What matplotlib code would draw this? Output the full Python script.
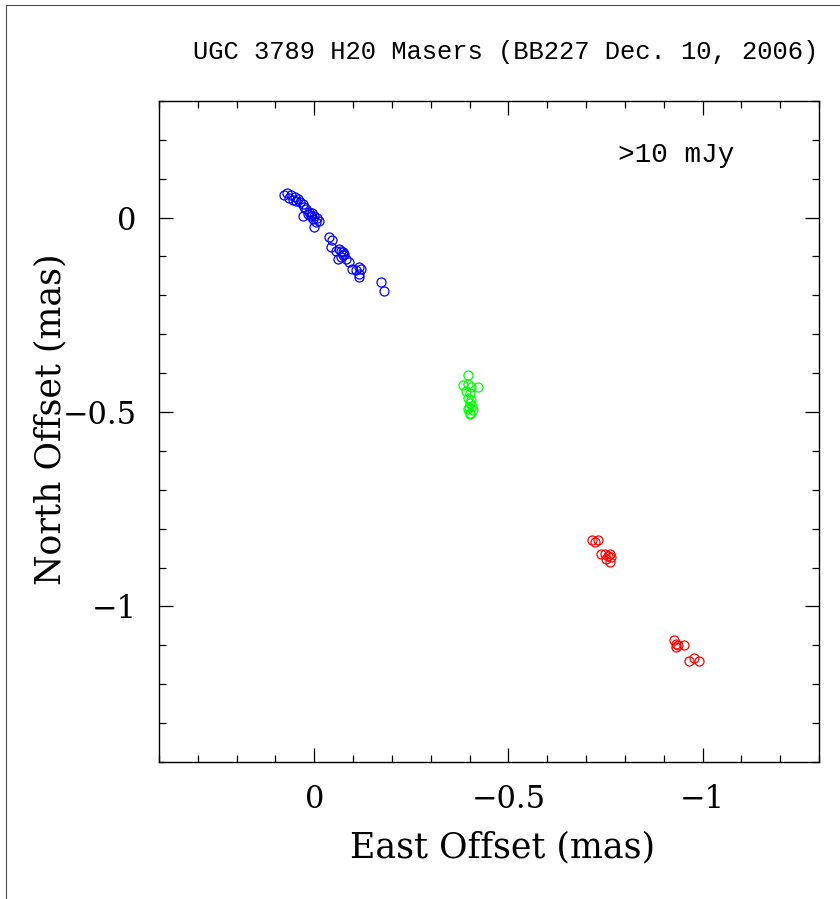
import numpy as np
import matplotlib.pyplot as plt
from matplotlib.lines import Line2D
from matplotlib.ticker import MultipleLocator

# maser positions (mas)
blue_x = [0.077, 0.071, 0.065, 0.060, 0.055, 0.051, 0.047, 0.042, 0.038, 0.030, 0.026,
          0.021, 0.017, 0.013, 0.008, 0.005, 0.004, 0.0, -0.004, -0.008, -0.013, 0.0, 0.030,
          -0.038, -0.045, -0.043, -0.056, -0.064, -0.068, -0.073, -0.077, -0.068, -0.060,
          -0.081, -0.075, -0.090, -0.098, -0.107, -0.115, -0.120, -0.115, -0.114,
          -0.171, -0.179]
blue_y = [0.057, 0.063, 0.050, 0.057, 0.045, 0.052, 0.044, 0.048, 0.039, 0.035, 0.028,
          0.022, 0.010, 0.014, 0.005, 0.012, -0.003, 0.004, -0.012, 0.000, -0.008, -0.025, 0.005,
          -0.051, -0.057, -0.076, -0.085, -0.080, -0.085, -0.089, -0.093, -0.102, -0.106,
          -0.106, -0.097, -0.115, -0.132, -0.136, -0.128, -0.132, -0.145, -0.153,
          -0.166, -0.188]

green_x = [-0.397, -0.384, -0.395, -0.403, -0.421, -0.390, -0.402, -0.397, -0.400, -0.405,
           -0.395, -0.408, -0.400, -0.402, -0.398, -0.404]
green_y = [-0.406, -0.430, -0.427, -0.435, -0.435, -0.446, -0.452, -0.464, -0.477, -0.485,
           -0.493, -0.494, -0.502, -0.505, -0.488, -0.470]

red_x = [-0.715, -0.722, -0.731, -0.739, -0.748, -0.756, -0.761, -0.752, -0.761, -0.765,
         -0.927, -0.932, -0.936, -0.953, -0.932, -0.966, -0.979, -0.991]
red_y = [-0.830, -0.835, -0.829, -0.865, -0.866, -0.869, -0.865, -0.877, -0.886, -0.873,
         -1.086, -1.096, -1.100, -1.100, -1.105, -1.141, -1.132, -1.141]

fig = plt.figure(figsize=(8.4, 8.99), dpi=100)
ax = fig.add_axes([0.1893, 0.1524, 0.7857, 0.7353])

mk = dict(linestyle='none', marker='o', markersize=6.5, markerfacecolor='none', markeredgewidth=0.9)
ax.plot(blue_x, blue_y, markeredgecolor=(0, 0, 1), **mk)
ax.plot(green_x, green_y, markeredgecolor=(0, 1, 0), **mk)
ax.plot(red_x, red_y, markeredgecolor=(1, 0, 0), **mk)


def fmt(v, p):
    if abs(v) < 1e-9:
        return '0'
    return ('%g' % v).replace('-', '\u2212')


ax.set_xlim(0.4, -1.3)
ax.set_ylim(-1.4, 0.3)
ax.xaxis.set_major_locator(MultipleLocator(0.5))
ax.xaxis.set_minor_locator(MultipleLocator(0.1))
ax.yaxis.set_major_locator(MultipleLocator(0.5))
ax.yaxis.set_minor_locator(MultipleLocator(0.1))
ax.xaxis.set_major_formatter(plt.FuncFormatter(fmt))
ax.yaxis.set_major_formatter(plt.FuncFormatter(fmt))
ax.tick_params(which='both', direction='in', top=True, right=True, width=0.9, color='black')
ax.tick_params(which='major', length=10, labelsize=22, pad=16)
ax.tick_params(which='minor', length=5)
for lab in ax.get_xticklabels() + ax.get_yticklabels():
    lab.set_family('DejaVu Serif')
    lab.set_fontweight('light')
for s in ax.spines.values():
    s.set_linewidth(1.0)

ax.set_xlabel('East Offset (mas)', family='DejaVu Serif', fontsize=25, va='center')
ax.set_ylabel('North Offset (mas)', family='DejaVu Serif', fontsize=25, va='center')
ax.xaxis.set_label_coords(0.521, -0.130)
ax.yaxis.set_label_coords(-0.165, 0.519)

fig.text(0.974, 0.942, 'UGC 3789 H20 Masers (BB227 Dec. 10, 2006)', family='Liberation Mono',
         fontsize=18.4, ha='right', va='center')
ax.text(-0.782, 0.16, '>10 mJy', family='Liberation Mono', fontsize=20, ha='left', va='center')

# page frame
fig.add_artist(Line2D([0.007, 0.007], [0, 0.9945], color='0.3', lw=0.8, transform=fig.transFigure))
fig.add_artist(Line2D([0.007, 1.0], [0.9945, 0.9945], color='0.3', lw=0.8, transform=fig.transFigure))

fig.savefig('out.png', dpi=100)
